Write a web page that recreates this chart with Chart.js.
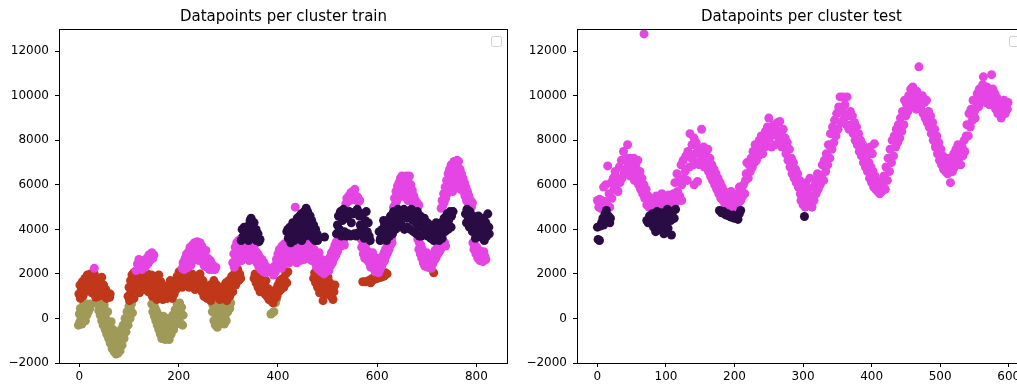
<!DOCTYPE html>
<html lang="en">
<head>
<meta charset="UTF-8">
<title>Datapoints per cluster</title>
<script src="https://cdn.jsdelivr.net/npm/chart.js"></script>
<style>
  html, body { margin: 0; padding: 0; background: #fff; overflow: hidden; }
  .panel { position: absolute; top: 0; width: 520px; height: 385px; }
</style>
</head>
<body>
<div class="panel" style="left:0"><canvas id="trainChart" width="520" height="385"></canvas></div>
<div class="panel" style="left:518px"><canvas id="testChart" width="520" height="385"></canvas></div>

<script>
// tick values
const yTicks = [-2000, 0, 2000, 4000, 6000, 8000, 10000, 12000];
const trainXTicks = [0, 200, 400, 600, 800];
const testXTicks = [0, 100, 200, 300, 400, 500, 600];

// train set, [index, value] per cluster
const trainOlive = [
  [-2,-300],[0,200],[1,-150],[2,450],[4,100],[5,-250],[6,350],[8,600],[9,0],[10,300],[12,-100],[13,550],[15,150],
  [16,650],[18,300],[19,600],[21,450],[23,650],
  [37,650],[39,350],[40,700],[42,150],[43,550],[45,-100],[46,400],[48,-300],[49,250],[50,600],[52,-500],[53,0],
  [55,-700],[56,-200],[57,300],[59,-900],[60,-400],[62,-1100],[63,-600],[64,-150],[66,-1350],[67,-900],[68,-500],
  [70,-1500],[71,-1100],[72,-700],[74,-1600],[75,-1250],[76,-850],[78,-1550],[79,-1150],[80,-700],[82,-1450],
  [83,-950],[84,-500],[86,-1200],[87,-750],[88,-300],[90,-900],[91,-450],[92,0],[94,-600],[95,-150],[96,300],
  [98,-300],[99,150],[100,550],[102,0],[103,400],[105,650],[107,250],
  [146,650],[148,300],[149,750],[151,100],[152,500],[154,-100],[155,350],[157,-300],[158,200],[160,-500],[161,0],
  [163,-700],[164,-200],[166,-900],[167,-400],[169,100],[170,-650],[172,-200],[173,-950],[175,-500],[176,0],
  [178,-800],[179,-300],[181,-950],[182,-500],[184,-100],[185,-700],[187,-300],[188,150],[190,-500],[191,0],
  [193,400],[194,-250],[196,200],[197,650],[199,-100],[200,400],[202,700],[203,100],[205,-250],[206,500],
  [208,-300],[209,150],
  [266,750],[268,300],[269,600],[271,-100],[272,400],[274,-300],[275,150],[277,650],[278,-400],[280,0],[281,450],
  [283,-200],[284,250],[286,700],[287,-100],[289,400],[290,100],[292,-250],[293,550],[295,200],[296,-100],
  [298,650],[299,300],[301,750],[303,450],[305,700],
  [386,200],[389,250],[392,300],[395,700],[397,850]
];

const trainRed = [
  [-1,1100],[1,1500],[2,900],[4,1300],[6,1650],[7,1000],[9,1450],[11,1800],[12,1200],[14,1600],[16,1950],
  [18,1350],[20,1700],[22,2000],[24,1500],[25,1150],[27,1850],[29,1300],[30,2000],[32,1600],[33,950],[35,1800],
  [37,1300],[38,1000],[40,1700],[42,1400],[44,1050],[45,1850],[47,1250],[49,1500],[51,1000],[53,1300],[55,900],
  [57,1150],[59,1000],[61,950],[62,1100],
  [98,1000],[100,1400],[101,800],[103,1700],[104,1200],[106,1950],[107,1500],[109,2050],[110,900],[112,1700],
  [114,1300],[116,2000],[118,1600],[120,2100],[121,1150],[123,1800],[125,1450],[127,2000],[129,1650],[131,1300],
  [133,1900],[135,1550],[137,2000],[139,1200],[141,1750],[143,1400],[145,1950],[147,1000],[148,1650],[150,1300],
  [152,1900],[154,1500],[156,850],[157,1800],[159,1200],[160,1950],[162,1400],[164,1650],[165,1000],[167,1300],
  [168,850],[170,1100],[172,900],
  [175,1200],[177,900],[179,1500],[181,1100],[183,1700],[185,1300],[187,900],[189,1500],[191,1100],[193,1700],
  [195,1300],[197,1900],[199,1500],[201,2100],[203,1700],[205,2000],[207,1400],[209,1800],[211,2100],[213,1600],
  [215,1900],[217,1500],[219,1750],[221,1400],[223,1900],[225,1600],[227,2000],[229,1500],[231,1800],[233,1300],
  [235,1650],[237,1900],[239,1400],[241,1750],[243,2000],[245,1500],[247,1200],[249,1700],[251,1000],[253,1400],
  [255,1100],[257,900],[259,1300],[261,1000],[263,1500],[265,800],[267,1200],[269,1000],
  [271,1700],[273,1400],[275,1100],[277,1500],[279,1000],[281,1300],[283,850],[285,1200],[287,1000],[289,1400],
  [291,900],[293,1200],[295,1600],[297,800],[299,1300],[301,1700],[303,1000],[305,1500],[307,1900],[309,1200],
  [311,1700],[313,2050],[315,1500],[317,1900],[319,2200],[321,1700],[323,2000],[325,1800],
  [352,1800],[354,2000],[356,1600],[358,1900],[360,1400],[362,1750],[364,1200],[366,1600],[368,1900],[370,1300],
  [372,1500],[374,1100],[376,1700],[378,1000],[380,1350],[382,850],[384,1200],[386,800],[388,1000],[390,700],
  [392,1100],[394,900],[396,1300],[398,1000],[400,1500],[402,1200],[404,1700],[406,1300],[408,1550],[410,1800],
  [412,1400],[414,1700],[416,2000],[418,1600],[420,2100],
  [472,1800],[474,2050],[476,1600],[478,1900],[480,1400],[482,1750],[484,1150],[486,1600],[488,1900],[490,1300],
  [491,800],[493,1500],[495,1100],[497,1700],[499,1400],[501,1850],[503,1200],[505,1600],[507,1000],[509,1400],
  [511,850],[513,1200],[515,1500],
  [571,1650],[576,1650],[583,1700],[587,1600],[590,1800],[594,1750],[597,1850],[601,1800],[604,1900],[608,1850],
  [611,1950],[614,1900],[617,2050],[620,2000],
  [714,2050]
];

const trainMagenta = [
  [30,2250],
  [114,2150],[117,2450],[119,2250],[120,2650],[122,2300],[124,2550],[126,2200],[128,2450],[130,2600],[132,2300],
  [134,2500],[136,2700],[138,2450],[140,2850],[142,2600],[144,2750],[146,2950],[148,2700],[150,2850],
  [207,2250],[209,2500],[211,2200],[213,2700],[214,2350],[216,2900],[217,2500],[219,2300],[220,3000],[222,2600],
  [223,3200],[225,2400],[226,2850],[228,3300],[229,2600],[231,3050],[232,3400],[234,2700],[235,3200],[237,3450],
  [238,2900],[240,3300],[241,2600],[243,3400],[244,3000],[246,2700],[247,3250],[249,2500],[250,2950],[252,2350],
  [253,2750],[255,3050],[256,2500],[258,2300],[259,2700],[261,2450],[262,2200],[264,2600],[265,2300],[267,2450],
  [269,2200],[271,2350],[273,2200],[275,2300],
  [309,2500],[311,2900],[312,2300],[314,3200],[315,2700],[317,3400],[318,2500],[320,3000],[321,3500],[323,2800],
  [324,3300],[326,3600],[327,2600],[329,3100],[330,3450],[332,2900],[333,3300],[335,3550],[336,2750],[338,3200],
  [339,2900],[341,3400],[342,2600],[344,3100],[345,2800],[347,3350],[348,2700],[350,3050],[351,2800],[353,3300],
  [354,2600],[356,3000],[357,2700],[359,2450],[360,2900],[362,2300],[363,2750],[365,2500],[366,2200],[368,2650],
  [369,2350],[371,2100],[372,2500],[374,2250],[376,2050],[378,2300],[380,2150],
  [391,1950],[393,2350],[395,2100],[397,2650],[398,2250],[400,2900],[402,2400],[403,3100],[405,2600],[407,2250],
  [408,3250],[410,2800],[412,2450],[413,3350],[415,2950],[417,2600],[418,3200],[420,2800],[422,3400],[423,2500],
  [425,3050],[427,2700],[428,3300],[430,2900],[432,2600],[433,3250],[435,2800],[437,3050],[438,2500],[440,3300],
  [442,2750],[443,3100],[445,2600],[447,3350],[448,2900],[450,3150],[452,2650],[453,3400],[455,2950],[457,3250],
  [458,2700],[460,3450],[462,3000],[463,3300],[465,2750],[467,3150],[468,2600],[470,3400],[472,2850],[473,3100],
  [475,2500],[477,2900],[478,2300],[480,2700],[482,2200],[483,2950],[485,2450],[487,2100],[488,2650],[490,2250],
  [492,2500],[493,2000],[495,2300],[497,2100],[498,2600],[500,2250],[502,2450],[503,2150],[505,2750],[507,2400],
  [508,2950],[510,2500],[512,3100],[513,2700],[515,3300],[517,2850],[518,3450],[520,3000],[522,3500],[523,3200],
  [525,3550],[527,3250],[528,3600],[530,3350],[532,3500],[534,3300],
  [435,5000],
  [537,5150],[539,5400],[541,5250],[543,5500],[545,5300],[547,5650],[549,5400],[551,5700],[553,5350],[555,5800],
  [557,5500],[559,5300],[561,5450],[563,5250],[565,5300],
  [567,3600],[569,3200],[570,3500],[572,2900],[573,3350],[575,2700],[576,3200],[578,2900],[579,3400],[581,2600],
  [582,3000],[584,2500],[585,2850],[587,2300],[588,2700],[590,2500],[591,2950],[593,2250],[594,2600],[596,2100],
  [597,2450],[599,2200],[600,2700],[602,2300],[603,2050],[605,2500],[606,2200],[608,2650],[609,2350],[611,2800],
  [612,2500],[614,2950],[615,2600],[617,3100],[618,2800],[620,3300],[621,2950],[623,3450],[624,3100],[626,3550],
  [627,3300],[629,3600],[630,3400],
  [633,5000],[635,5400],[636,5100],[638,5700],[639,5250],[641,5950],[642,5400],[644,6100],[645,5600],[647,6300],
  [648,5800],[650,6400],[651,5500],[653,6050],[654,5700],[656,6200],[657,5450],[659,6400],[660,5900],[662,5300],
  [663,6100],[665,6400],[666,5700],[668,6000],[669,5300],[671,5750],[672,5150],[674,5500],[675,5050],[677,5300],
  [678,5000],[680,5200],[682,5000],[684,5100],
  [682,3550],[684,3100],[685,3400],[687,2900],[688,3300],[690,2700],[691,3100],[693,2500],[694,2900],[696,2350],
  [697,2700],[699,2450],[700,2950],[702,2300],[703,2650],[705,2350],[706,2800],[708,2550],[709,2250],[711,2700],
  [712,2450],[714,2900],[715,2600],[717,3050],[718,2700],[720,3150],[721,2850],[723,3300],[724,2950],[726,3350],
  [727,3050],[729,3400],[730,3200],[732,3450],[734,3300],[736,3400],[738,3250],
  [729,4950],[731,5300],[732,5050],[734,5600],[735,5200],[737,5900],[738,5400],[740,6200],[741,5600],[743,6500],
  [744,5800],[746,6700],[747,6000],[749,6900],[750,6300],[752,5700],[753,6600],[755,7050],[756,6200],[758,6800],
  [759,5900],[761,7100],[762,6500],[764,7050],[765,6100],[767,6700],[768,5800],[770,6500],[771,6000],[773,6300],
  [774,5700],[776,6100],[777,5500],[779,5900],[780,5300],[782,5700],[783,5200],[785,5500],[786,5100],[788,5300],
  [790,5000],[792,5200],
  [793,3400],[795,3100],[797,3300],[799,2900],[801,3200],[803,2700],[805,3050],[807,2600],[809,3000],[811,2700],
  [813,2550],[815,3000],[817,2800],[819,2650]
];

const trainDark = [
  [326,3500],[328,4000],[330,3700],[332,4100],[333,4050],[334,3800],[336,3600],[338,4000],[340,3700],[341,3500],
  [342,4200],[344,4400],[346,4500],[348,4100],[349,4350],[350,3900],[352,4300],[354,3700],[356,4000],[357,3500],
  [358,3600],[360,3800],[362,3450],[364,3550],
  [418,3900],[420,4000],[421,3600],[424,4100],[426,3400],[427,3800],[430,4300],[432,4100],[433,3500],[436,4000],
  [438,3600],[439,4500],[442,3700],[444,4600],[445,4200],[447,4700],[448,3500],[449,3900],[451,4400],[452,4200],
  [453,4800],[455,4100],[456,3700],[457,4950],[459,4500],[460,4800],[461,3800],[463,4300],[464,4000],[465,4600],
  [467,3900],[468,4400],[469,4100],[471,3600],[472,4200],[473,3900],[475,3500],[476,4000],[477,3700],[479,3800],
  [480,3500],
  [494,3660],
  [518,3800],[520,4200],[522,4600],[524,4000],[526,4800],[528,3700],[530,4400],[532,4900],[534,3900],[536,4700],
  [538,3700],[540,4500],[542,3800],[544,4800],[546,3700],[548,4300],[550,3750],[552,4700],[554,3800],[556,4800],
  [558,3700],[560,4900],[562,3850],[564,4600],[566,4200],[568,3800],[570,4700],[572,4100],[574,3600],[576,4400],
  [578,4800],[580,3900],[582,4300],[584,3700],[586,3500],
  [604,3900],[606,3500],[607,3600],[610,4000],[612,3700],[613,4400],[615,4200],[618,3800],[619,3500],[621,4400],
  [624,4000],[625,3700],[627,4600],[630,4200],[631,3800],[633,4800],[636,4400],[637,4000],[639,4700],[642,4900],
  [643,4100],[645,4500],[648,4800],[649,4200],[651,4600],[654,4900],[655,4000],[657,4700],[660,4500],[661,4100],
  [663,4800],[666,4600],[667,4000],[669,4900],[672,4400],[673,3900],[675,4700],[678,4300],[679,3800],[681,4800],
  [684,4100],[685,3700],
  [687,4600],[689,3700],[690,4200],[693,4400],[695,4500],[696,3900],[699,4100],[701,4300],[702,3700],[705,3900],
  [707,4200],[708,3600],[711,3800],[713,4000],[714,3500],[717,3900],[719,4300],[720,3700],[723,4100],[725,3500],
  [726,3800],[729,4300],[731,3600],[732,4000],[735,4500],[737,3900],[738,4200],[741,4700],[743,4000],[744,4400],
  [747,4800],[749,4100],[750,4600],[753,4800],
  [778,4700],[780,4300],[781,4900],[784,4500],[786,4100],[787,4800],[790,4300],[792,3900],[793,4600],[796,4000],
  [798,3600],[799,4400],[802,3800],[804,4600],[805,4200],[808,3700],[810,4500],[811,4100],[813,3600],[815,4500],
  [816,3500],[817,3900],[819,4300],[821,3700],[822,4000],[823,4700],[825,4100],[826,3800]
];

// test set, [index, value] per cluster
const testMagenta = [
  [68,12780],
  [0,5300],[2,5000],[3,5350],[5,4950],[6,5300],[8,5100],[9,5900],[11,5250],[12,6000],[14,5100],[15,6850],
  [17,5600],[18,5000],[20,6100],[21,5400],[23,6300],[24,5800],[26,6600],[27,5900],[29,6300],[30,5700],[32,6800],
  [33,6100],[35,7100],[36,6300],[38,7500],[39,6500],[41,7200],[42,6700],[44,7800],[45,6900],[47,7200],[48,6400],
  [50,7100],[51,6700],[53,7200],[54,6200],[56,6900],[57,6400],[59,7100],[60,6000],[62,6600],[63,5800],[65,6300],
  [66,5600],[68,6000],[69,5400],[71,5800],[72,5100],[74,5500],[75,5000],[77,5300],[79,5100],
  [80,5300],[82,4950],[84,5200],[86,5500],[88,5000],[90,5350],[92,4900],[94,5600],[96,5150],[98,5450],[100,5000],
  [102,5300],[104,5550],[106,5050],[108,5350],[110,5000],[112,5500],[114,5200],
  [111,5600],[113,6100],[114,5300],[116,6500],[117,5700],[119,6200],[120,5500],[122,6900],[123,6000],[123,5300],
  [125,7100],[126,6300],[128,6600],[129,7300],[131,6200],[132,7500],[134,6800],[135,8300],[137,7200],[138,7800],
  [140,6900],[141,8100],[141,6000],[143,7400],[144,7900],[146,7000],[146,6150],[147,7600],[149,6900],[150,7400],
  [152,8500],[153,7100],[155,7700],[156,6800],[158,7400],[159,7000],[161,7600],[162,6600],[164,7200],[165,6400],
  [167,6900],[168,6200],[170,6700],[171,6000],[173,6500],[174,5800],[176,6300],[177,5600],[179,6100],[180,5400],
  [182,5900],[183,5300],[185,5700],[186,5100],
  [188,5200],[189,5600],[191,4900],[192,5400],[194,5100],[195,5700],[197,5000],[198,5450],[200,4900],[201,5300],
  [203,5050],[204,5600],[206,5200],[207,5900],[209,5300],[210,5750],[212,5500],[213,6000],[215,5600],[216,6200],
  [217,6500],[218,7000],[220,6300],[221,6900],[223,6600],[224,7200],[226,6800],[227,7500],[229,7000],[230,7800],
  [232,7100],[233,7700],[235,7300],[236,8000],[238,7500],[239,8200],[241,7400],[242,8000],[244,7700],[245,8400],
  [247,7800],[248,8600],[250,9000],[251,8100],[253,8500],[254,7700],[256,8300],[257,8700],[259,7800],[260,8500],
  [262,8200],[263,8800],[265,7900],[266,8850],[268,8300],[269,7700],[271,8500],[272,7900],[274,8100],[275,7400],
  [277,7900],[278,7100],[280,7600],[281,6800],[283,7200],[284,6500],[286,7000],[287,6300],[289,6700],[290,6100],
  [292,6500],[293,5900],[295,6200],[296,5600],
  [297,5300],[298,6000],[300,5100],[301,5700],[303,5000],[304,6100],[306,5400],[307,5800],[309,5100],[310,6300],
  [312,5500],[313,5000],[315,5900],[316,5300],[318,6200],[319,5600],[321,6500],[322,5800],[324,6300],[325,6000],
  [327,6400],[328,6900],[330,6200],[331,7100],[333,6600],[334,7400],[336,6900],[337,7800],[339,7200],[340,8300],
  [342,7600],[343,8600],[345,7900],[346,8900],[348,8200],[349,9200],[351,8500],[352,9500],[354,9950],[355,8800],
  [357,9300],[358,9950],[360,9000],[361,9600],[363,8700],[364,9950],[366,9100],[367,8500],[369,9300],[370,8700],
  [372,9100],[373,8300],[375,8800],[376,8000],[378,8600],[379,7800],[381,8300],[382,7500],[384,8000],[385,7300],
  [387,7800],[388,7000],[390,7600],[391,6800],[393,7300],[394,6600],[396,7000],[397,6300],[398,7700],[399,6800],
  [400,6100],[401,7400],[402,6600],[403,5900],[404,7850],[405,6400],[406,5800],[408,6200],[409,5700],[411,6100],
  [412,5600],[414,6000],[415,5700],
  [417,5900],[418,6400],[420,5800],[421,6800],[423,6200],[424,7200],[426,6600],[427,7600],[429,7000],[430,8000],
  [432,7300],[433,8200],[435,7700],[436,8500],[438,7900],[439,8700],[441,8100],[442,9000],[444,8400],[445,9300],
  [447,8700],[448,9800],[450,9100],[451,9600],[453,9300],[454,10000],[456,9500],[457,10300],[459,9800],[460,10400],
  [462,9600],[463,10100],[465,9400],[466,10200],[468,9700],[469,11300],[471,9900],[472,9400],[474,10000],[475,9200],
  [477,9700],[478,9000],[480,9800],[481,8800],[483,9300],[484,8600],[486,9100],[487,8300],[489,8800],[490,8000],
  [492,8500],[493,7700],[495,8200],[496,7400],[498,7900],[499,7100],[501,7600],[502,6900],[504,7300],[505,6700],
  [507,7000],[508,6600],
  [510,6900],[511,6500],[513,7200],[514,6700],[515,6100],[517,7000],[518,6600],[520,7400],[521,6800],[523,7600],
  [524,7000],[526,7800],[527,7200],[529,7500],[530,6900],[532,7700],[533,7300],[535,8000],[536,7500],[538,8200],
  [539,8700],[541,8200],[542,9200],[544,8600],[545,9400],[547,8900],[548,9800],[550,9300],[551,9000],[553,9700],
  [554,10100],[556,9500],[557,10300],[559,9800],[560,10000],[562,10500],[563,10850],[565,10200],[566,9700],
  [568,10400],[569,9900],[571,10300],[572,9600],[574,10000],[575,10950],[577,10300],[578,9700],[580,10100],
  [581,9400],[583,9900],[584,9200],[586,9700],[587,9400],[589,9000],[590,9600],[592,9300],[593,9800],[595,9200],
  [596,9600],[598,9400],[599,9700]
];

const testDark = [
  [0,4100],[1,3550],[3,3500],[4,4150],[6,4300],[8,4500],[9,4200],[11,4700],[12,4400],[13,4850],[15,4350],
  [16,4600],[18,4300],[19,4500],
  [72,4400],[74,4300],[76,4600],[78,4450],[80,4700],[82,4100],[84,4500],[85,3900],[87,4800],[88,4300],[90,4600],
  [91,4000],[93,4750],[94,4200],[96,4500],[97,3800],[99,4700],[100,4300],[102,4900],[103,4050],[105,4600],
  [107,4400],[108,3750],[110,4800],[112,4500],[114,4900],
  [178,4850],[181,4750],[184,4800],[187,4650],[190,4700],[192,4600],[195,4550],[198,4650],[200,4500],[203,4600],
  [205,4450],[207,4700],[209,4850],
  [302,4580]
];

const OLIVE = '#a09a58';
const RED = '#c0371a';
const MAGENTA = '#e445e3';
const DARK = '#2a0c45';

function toPoints(pairs) {
  return pairs.map(p => ({ x: p[0], y: p[1] }));
}

function fmtTick(v) {
  return v < 0 ? '\u2212' + Math.abs(v) : String(v);
}

// box around the axes, empty legend frame and the title
const framePlugin = {
  id: 'frame',
  afterDraw(chart, args, opts) {
    const { ctx, chartArea: a } = chart;
    ctx.save();
    ctx.strokeStyle = '#000';
    ctx.lineWidth = 1;
    ctx.strokeRect(a.left + 0.5, a.top + 0.5, a.right - a.left - 1, a.bottom - a.top);

    ctx.strokeStyle = '#d0d0d0';
    ctx.beginPath();
    ctx.roundRect(a.right - 16.5, a.top + 7.5, 10, 10, 2);
    ctx.stroke();

    ctx.fillStyle = '#000';
    ctx.font = '15px "DejaVu Sans"';
    ctx.textAlign = 'center';
    ctx.textBaseline = 'alphabetic';
    ctx.fillText(opts.text, (a.left + a.right) / 2, 21);
    ctx.restore();
  }
};

function makeChart(id, title, xMin, xMax, xTicks, groups) {
  const datasets = groups.map(g => ({
    data: toPoints(g.points),
    backgroundColor: g.color,
    borderWidth: 0,
    pointRadius: 4.5,
    pointHoverRadius: 4.5
  }));

  const tickFont = { family: 'DejaVu Sans', size: 12 };
  const tickGrid = { drawOnChartArea: false, drawTicks: true, tickLength: 4, color: '#000', lineWidth: 1 };

  return new Chart(document.getElementById(id), {
    type: 'scatter',
    data: { datasets: datasets },
    options: {
      responsive: false,
      animation: false,
      layout: { padding: { top: 29, right: 12, bottom: 0, left: 0 } },
      plugins: {
        legend: { display: false },
        tooltip: { enabled: false },
        frame: { text: title }
      },
      scales: {
        x: {
          type: 'linear',
          min: xMin,
          max: xMax,
          afterBuildTicks: s => { s.ticks = xTicks.map(v => ({ value: v })); },
          afterFit: s => { s.height = 22; },
          grid: tickGrid,
          border: { display: false },
          ticks: { font: tickFont, color: '#000', padding: 3, maxRotation: 0, autoSkip: false, callback: fmtTick }
        },
        y: {
          type: 'linear',
          min: -2000,
          max: 13000,
          afterBuildTicks: s => { s.ticks = yTicks.map(v => ({ value: v })); },
          afterFit: s => { s.width = 59; },
          grid: tickGrid,
          border: { display: false },
          ticks: { font: tickFont, color: '#000', padding: 6, autoSkip: false, callback: fmtTick }
        }
      }
    },
    plugins: [framePlugin]
  });
}

makeChart('trainChart', 'Datapoints per cluster train', -41.1, 863.7, trainXTicks, [
  { points: trainDark, color: DARK },
  { points: trainMagenta, color: MAGENTA },
  { points: trainRed, color: RED },
  { points: trainOlive, color: OLIVE }
]);

makeChart('testChart', 'Datapoints per cluster test', -29.8, 625.2, testXTicks, [
  { points: testDark, color: DARK },
  { points: testMagenta, color: MAGENTA }
]);
</script>
</body>
</html>
